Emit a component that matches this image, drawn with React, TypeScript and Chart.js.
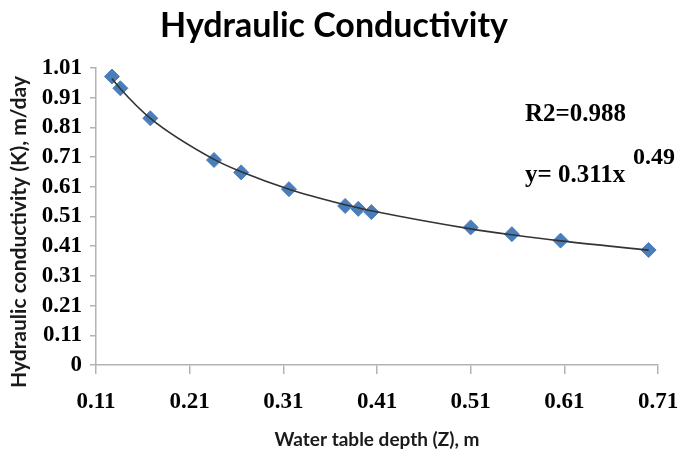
import React, { useEffect, useRef } from "react";
import { Chart, registerables } from "chart.js";

Chart.register(...registerables);

// ---- data ----
const depthZ = [0.127, 0.136, 0.168, 0.236, 0.265, 0.316, 0.376, 0.39, 0.404, 0.51, 0.554, 0.606, 0.7];
const conductivityK = [0.981, 0.941, 0.839, 0.697, 0.655, 0.598, 0.541, 0.531, 0.52, 0.468, 0.445, 0.423, 0.391];

const xTickValues = [0.11, 0.21, 0.31, 0.41, 0.51, 0.61, 0.71];
const xTickLabels = ["0.11", "0.21", "0.31", "0.41", "0.51", "0.61", "0.71"];
const yTickValues = [0, 0.101, 0.202, 0.303, 0.404, 0.505, 0.606, 0.707, 0.808, 0.909, 1.01];
const yTickLabels = ["0", "0.11", "0.21", "0.31", "0.41", "0.51", "0.61", "0.71", "0.81", "0.91", "1.01"];

const chartTitle = "Hydraulic Conductivity";
const xTitle = "Water table depth (Z), m";
const yTitle = "Hydraulic conductivity (K), m/day";
const r2Text = "R2=0.988";
const eqText = "y= 0.311x";
const eqExponent = "0.49";

// power-law least squares fit (like a spreadsheet trendline) from the data
function powerFit(xs: number[], ys: number[]): number[] {
  const n = xs.length;
  let sx = 0, sy = 0, sxx = 0, sxy = 0;
  for (let i = 0; i < n; i++) {
    const lx = Math.log(xs[i]);
    const ly = Math.log(ys[i]);
    sx += lx; sy += ly; sxx += lx * lx; sxy += lx * ly;
  }
  const b = (n * sxy - sx * sy) / (n * sxx - sx * sx);
  const a = Math.exp((sy - b * sx) / n);
  return xs.map((x) => a * Math.pow(x, b));
}

const GRAY = "#b3b3b3";
const TICK_FONT = { family: "'Liberation Serif', 'Times New Roman', serif", size: 23, weight: "bold" as const };

const textPlugin = {
  id: "textPlugin",
  afterDraw(chart: any) {
    const ctx = chart.ctx as CanvasRenderingContext2D;
    const area = chart.chartArea;
    ctx.save();
    ctx.fillStyle = "#000";
    // title
    ctx.font = "bold 34px Lato";
    ctx.textAlign = "center";
    ctx.textBaseline = "alphabetic";
    ctx.fillText(chartTitle, 334, 37);
    // x title
    ctx.font = "bold 19px Lato";
    ctx.fillStyle = "#1a1a1a";
    ctx.fillText(xTitle, (area.left + area.right) / 2, 446);
    // y title
    ctx.font = "bold 21px Lato";
    ctx.save();
    ctx.translate(26, 232);
    ctx.rotate(-Math.PI / 2);
    ctx.fillText(yTitle, 0, 0);
    ctx.restore();
    // annotations
    ctx.fillStyle = "#000";
    ctx.textAlign = "left";
    ctx.font = "bold 25px 'Liberation Serif'";
    ctx.fillText(r2Text, 525, 121);
    ctx.fillText(eqText, 525, 182);
    ctx.font = "bold 24px 'Liberation Serif'";
    ctx.fillText(eqExponent, 633, 164);
    ctx.restore();
  },
};

export default function App() {
  const ref = useRef<HTMLCanvasElement | null>(null);
  useEffect(() => {
    if (!ref.current) return;
    const trend = powerFit(depthZ, conductivityK);
    const chart = new Chart(ref.current, {
      type: "scatter",
      data: {
        datasets: [
          {
            type: "line",
            label: "trend",
            data: depthZ.map((x, i) => ({ x, y: trend[i] })),
            borderColor: "#333333",
            borderWidth: 1.6,
            pointRadius: 0,
            showLine: true,
            fill: false,
            cubicInterpolationMode: "monotone",
            order: 0,
          } as any,
          {
            label: "K",
            data: depthZ.map((x, i) => ({ x, y: conductivityK[i] })),
            pointStyle: "rectRot",
            pointRadius: 7.5,
            pointBackgroundColor: "#4A7EBB",
            pointBorderColor: "#4A7EBB",
            pointBorderWidth: 1,
            showLine: false,
            order: 1,
          } as any,
        ],
      },
      options: {
        animation: false,
        responsive: false,
        layout: { padding: { left: 40, right: 27, top: 68, bottom: 53 } },
        plugins: { legend: { display: false }, tooltip: { enabled: false }, title: { display: false } },
        scales: {
          x: {
            type: "linear",
            min: 0.11,
            max: 0.71,
            afterBuildTicks: (s: any) => {
              s.ticks = xTickValues.map((v) => ({ value: v }));
            },
            afterFit: (s: any) => {
              s.height = 45;
              s.paddingLeft = 0;
              s.paddingRight = 0;
            },
            ticks: {
              autoSkip: false,
              maxRotation: 0,
              padding: 14,
              color: "#000",
              font: TICK_FONT,
              callback: (_v: any, i: number) => xTickLabels[i],
            },
            grid: { drawOnChartArea: false, drawTicks: true, tickLength: 9, color: GRAY, lineWidth: 1.5 },
            border: { color: GRAY, width: 1.5 },
          },
          y: {
            type: "linear",
            min: 0,
            max: 1.01,
            afterBuildTicks: (s: any) => {
              s.ticks = yTickValues.map((v) => ({ value: v }));
            },
            afterFit: (s: any) => {
              s.width = 56;
              s.paddingTop = 0;
              s.paddingBottom = 0;
            },
            ticks: {
              autoSkip: false,
              padding: 8,
              color: "#000",
              font: TICK_FONT,
              callback: (_v: any, i: number) => yTickLabels[i],
            },
            grid: { drawOnChartArea: false, drawTicks: true, tickLength: 6, color: GRAY, lineWidth: 1.5 },
            border: { color: GRAY, width: 1.5 },
          },
        },
      },
      plugins: [textPlugin],
    });
    return () => chart.destroy();
  }, []);
  return (
    <div style={{ position: "absolute", left: 0, top: 0, width: 685, height: 463, background: "#fff" }}>
      <canvas ref={ref} width={685} height={463} />
    </div>
  );
}
